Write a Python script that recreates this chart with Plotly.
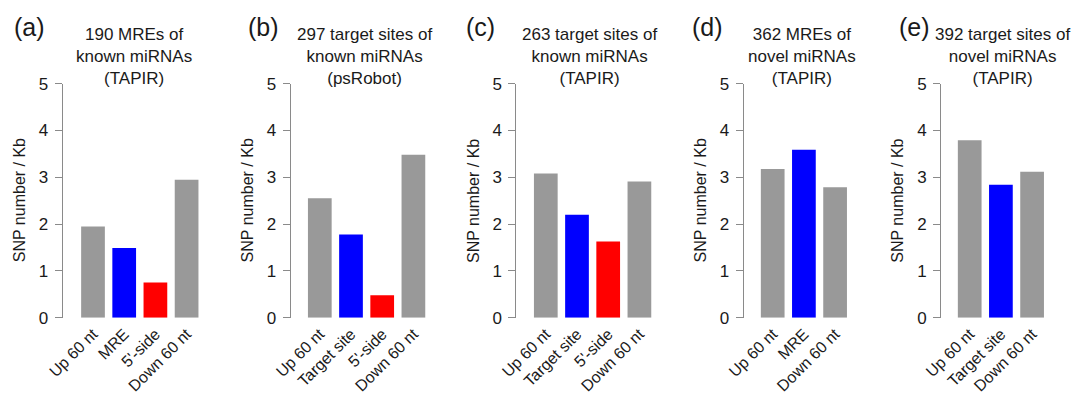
import plotly.graph_objects as go

# ---------------- data ----------------
panel_labels = ["(a)", "(b)", "(c)", "(d)", "(e)"]
titles = [
    "190 MREs of<br>known miRNAs<br>(TAPIR)",
    "297 target sites of<br>known miRNAs<br>(psRobot)",
    "263 target sites of<br>known miRNAs<br>(TAPIR)",
    "362 MREs of<br>novel miRNAs<br>(TAPIR)",
    "392 target sites of<br>novel miRNAs<br>(TAPIR)",
]
categories_a = ["Up 60 nt", "MRE", "5'-side", "Down 60 nt"]
values_a = [1.95, 1.49, 0.75, 2.95]
categories_b = ["Up 60 nt", "Target site", "5'-side", "Down 60 nt"]
values_b = [2.55, 1.78, 0.48, 3.48]
categories_c = ["Up 60 nt", "Target site", "5'-side", "Down 60 nt"]
values_c = [3.08, 2.20, 1.63, 2.91]
categories_d = ["Up 60 nt", "MRE", "Down 60 nt"]
values_d = [3.18, 3.59, 2.79]
categories_e = ["Up 60 nt", "Target site", "Down 60 nt"]
values_e = [3.79, 2.84, 3.12]
y_ticks = [0, 1, 2, 3, 4, 5]
y_title = "SNP number / Kb"

# ---------------- style / layout ----------------
GRAY, BLUE, RED = "#999999", "#0000FF", "#FF0000"
colors_4 = [GRAY, BLUE, RED, GRAY]
colors_3 = [GRAY, BLUE, GRAY]
FONT = "Liberation Sans, Arial, sans-serif"
TXT = "#1a1a1a"
AX = "#8a8a8a"

W, H = 1077, 396
pitch = 31.2
y0_px, y5_px = 317.7, 83.7
axis_px = [62.5, 290.7, 516.3, 743.7, 941.0]
first_bar_px = [93.0, 319.8, 545.8, 772.7, 969.7]
title_cx = [133.5, 364.5, 589.0, 802.0, 1002.5]
label_cx = [29.0, 263.0, 480.0, 707.5, 914.0]

panels = [
    (categories_a, values_a, colors_4),
    (categories_b, values_b, colors_4),
    (categories_c, values_c, colors_4),
    (categories_d, values_d, colors_3),
    (categories_e, values_e, colors_3),
]

fig = go.Figure()
layout = dict(
    width=W, height=H, autosize=False,
    margin=dict(l=0, r=0, t=0, b=0, pad=0, autoexpand=False),
    paper_bgcolor="white", plot_bgcolor="white",
    showlegend=False,
    font=dict(family=FONT, color=TXT),
    annotations=[],
)

for i, (cats, vals, cols) in enumerate(panels):
    k = "" if i == 0 else str(i + 1)
    n = len(cats)
    left = (axis_px[i] - first_bar_px[i]) / pitch
    right = n - 1 + 0.55
    x_end = first_bar_px[i] + right * pitch
    fig.add_trace(go.Bar(
        x=cats, y=vals, marker=dict(color=cols, line=dict(width=0)),
        width=0.76, xaxis="x" + k, yaxis="y" + k, hoverinfo="x+y",
    ))
    layout["xaxis" + k] = dict(
        domain=[axis_px[i] / W, x_end / W], range=[left, right],
        type="category", anchor="y" + k, showline=False, showgrid=False,
        zeroline=False, ticks="", tickangle=-45, automargin=False,
        tickfont=dict(size=16, family=FONT, color=TXT),
        ticklabelstandoff=3,
    )
    layout["yaxis" + k] = dict(
        domain=[(H - y0_px) / H, (H - y5_px) / H], range=[0, 5],
        anchor="x" + k, showline=True, linecolor=AX, linewidth=1,
        ticks="outside", ticklen=7, tickcolor=AX, tickwidth=1,
        tickvals=y_ticks, showgrid=False, zeroline=False, automargin=False,
        tickfont=dict(size=17, family=FONT, color=TXT),
        ticklabelstandoff=3,
    )
    layout["annotations"].append(dict(
        text=titles[i], xref="paper", yref="paper",
        x=title_cx[i] / W, y=(H - 56.5) / H, xanchor="center", yanchor="middle",
        showarrow=False, font=dict(size=17, family=FONT, color=TXT), align="center",
    ))
    layout["annotations"].append(dict(
        text=panel_labels[i], xref="paper", yref="paper",
        x=label_cx[i] / W, y=(H - 27) / H, xanchor="center", yanchor="middle",
        showarrow=False, font=dict(size=25, family=FONT, color=TXT),
    ))
    layout["annotations"].append(dict(
        text=y_title, xref="paper", yref="paper", textangle=-90,
        x=(axis_px[i] - 43) / W, y=(H - (y0_px + y5_px) / 2) / H,
        xanchor="center", yanchor="middle",
        showarrow=False, font=dict(size=16, family=FONT, color=TXT),
    ))

fig.update_layout(**layout)
fig.write_html(
    "out.html",
    config={"displayModeBar": False},
    post_script=(
        "document.documentElement.style.margin='0';"
        "document.body.style.margin='0';"
        "document.body.style.padding='0';"
        "document.body.style.overflow='hidden';"
    ),
)
